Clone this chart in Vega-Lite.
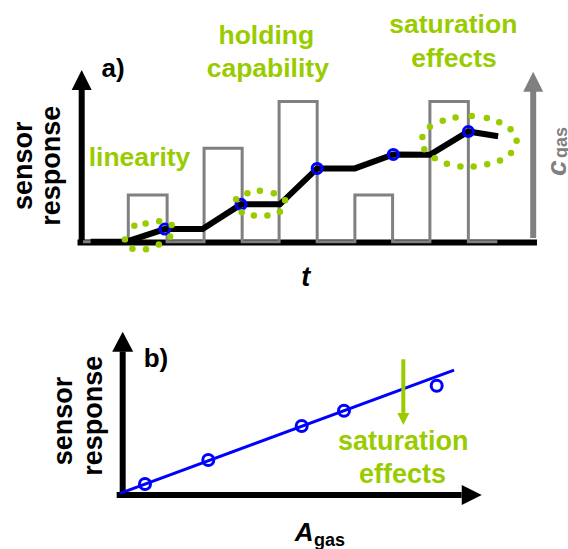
{
  "$schema": "https://vega.github.io/schema/vega-lite/v6.json",
  "background": "white",
  "padding": 0,
  "spacing": 0,
  "bounds": "flush",
  "config": {"view": {"stroke": null}},
  "datasets": {
    "a_axes": [
      {"t": -0.347, "t2": 11.84, "v": -0.015, "v2": -0.015},
      {"t": -0.236, "t2": -0.236, "v": -0.07, "v2": 3.27}
    ],
    "a_gaxis": [{"t": 11.74, "t2": 11.74, "v": 0.08, "v2": 3.24}],
    "a_head_black": [{"t": -0.236, "v": 3.463}],
    "a_head_gray": [{"t": 11.74, "v": 3.426}],
    "a_pulse": [
      {"i": 0, "t": -0.2, "v": 0}, {"i": 1, "t": 1.0, "v": 0}, {"i": 2, "t": 1.0, "v": 1},
      {"i": 3, "t": 2.03, "v": 1}, {"i": 4, "t": 2.03, "v": 0}, {"i": 5, "t": 3.01, "v": 0},
      {"i": 6, "t": 3.01, "v": 2}, {"i": 7, "t": 4.02, "v": 2}, {"i": 8, "t": 4.02, "v": 0},
      {"i": 9, "t": 5.0, "v": 0}, {"i": 10, "t": 5.0, "v": 3}, {"i": 11, "t": 6.01, "v": 3},
      {"i": 12, "t": 6.01, "v": 0}, {"i": 13, "t": 7.01, "v": 0}, {"i": 14, "t": 7.01, "v": 1},
      {"i": 15, "t": 8.01, "v": 1}, {"i": 16, "t": 8.01, "v": 0}, {"i": 17, "t": 9.0, "v": 0},
      {"i": 18, "t": 9.0, "v": 3}, {"i": 19, "t": 10.02, "v": 3}, {"i": 20, "t": 10.02, "v": 0},
      {"i": 21, "t": 10.79, "v": 0}
    ],
    "a_resp": [
      {"i": 0, "t": 0.0, "v": 0.0}, {"i": 1, "t": 0.95, "v": 0.0}, {"i": 2, "t": 1.97, "v": 0.27},
      {"i": 3, "t": 2.97, "v": 0.27}, {"i": 4, "t": 3.99, "v": 0.8}, {"i": 5, "t": 5.02, "v": 0.8},
      {"i": 6, "t": 6.01, "v": 1.57}, {"i": 7, "t": 7.01, "v": 1.57}, {"i": 8, "t": 8.03, "v": 1.87},
      {"i": 9, "t": 9.0, "v": 1.86}, {"i": 10, "t": 10.02, "v": 2.36}, {"i": 11, "t": 10.81, "v": 2.26}
    ],
    "a_circles": [
      {"t": 1.97, "v": 0.27}, {"t": 3.99, "v": 0.8}, {"t": 6.01, "v": 1.57},
      {"t": 8.03, "v": 1.87}, {"t": 10.02, "v": 2.36}
    ],
    "a_dots": [
      {"t": 0.91, "v": 0.05}, {"t": 1.16, "v": 0.34}, {"t": 1.46, "v": 0.39}, {"t": 1.82, "v": 0.44},
      {"t": 2.15, "v": 0.36}, {"t": 2.11, "v": 0.11}, {"t": 1.81, "v": -0.06}, {"t": 1.47, "v": -0.16},
      {"t": 1.11, "v": -0.15},
      {"t": 3.86, "v": 0.91}, {"t": 4.16, "v": 1.04}, {"t": 4.49, "v": 1.09}, {"t": 4.86, "v": 1.04},
      {"t": 5.16, "v": 0.89}, {"t": 5.02, "v": 0.64}, {"t": 4.69, "v": 0.56}, {"t": 4.33, "v": 0.56},
      {"t": 4.01, "v": 0.63},
      {"t": 8.8, "v": 2.24}, {"t": 9.0, "v": 2.46}, {"t": 9.34, "v": 2.59}, {"t": 9.68, "v": 2.66},
      {"t": 10.11, "v": 2.69}, {"t": 10.51, "v": 2.65}, {"t": 10.84, "v": 2.56}, {"t": 11.14, "v": 2.41},
      {"t": 11.3, "v": 2.16}, {"t": 11.15, "v": 1.9}, {"t": 10.86, "v": 1.74}, {"t": 10.52, "v": 1.66},
      {"t": 10.16, "v": 1.61}, {"t": 9.81, "v": 1.61}, {"t": 9.45, "v": 1.67}, {"t": 9.13, "v": 1.79},
      {"t": 8.85, "v": 1.98}
    ],
    "a_green_text": [
      {"t": 1.297, "v": 1.621, "label": "linearity"},
      {"t": 4.66, "v": 4.242, "label": "holding"},
      {"t": 4.7, "v": 3.527, "label": "capability"},
      {"t": 9.62, "v": 4.47, "label": "saturation"},
      {"t": 9.64, "v": 3.75, "label": "effects"}
    ],
    "a_letter": [{"t": 0.594, "v": 3.537, "label": "a)"}],
    "a_tlabel": [{"t": 5.71, "v": -0.949, "label": "t"}],
    "a_ylabel": [
      {"t": -1.562, "v": 1.625, "label": "sensor"},
      {"t": -0.812, "v": 1.625, "label": "response"}
    ],
    "a_c": [{"t": 12.61, "v": 1.572, "label": "c"}],
    "a_gas": [{"t": 12.64, "v": 1.792, "label": "gas"}],
    "b_axes": [
      {"a": -0.27, "a2": 15.2, "r": 0, "r2": 0},
      {"a": 0, "a2": 0, "r": -0.13, "r2": 6.43}
    ],
    "b_head_up": [{"a": 0, "r": 6.874}],
    "b_head_right": [{"a": 15.653, "r": 0}],
    "b_fit": [{"a": -0.12, "a2": 14.86, "r": 0.076, "r2": 5.6}],
    "b_circles": [
      {"a": 1.0, "r": 0.493}, {"a": 3.839, "r": 1.57}, {"a": 8.027, "r": 3.094},
      {"a": 9.924, "r": 3.78}, {"a": 14.081, "r": 4.901}
    ],
    "b_garrow": [{"a": 12.584, "a2": 12.584, "r": 6.085, "r2": 3.68}],
    "b_ghead": [{"a": 12.584, "r": 3.408}],
    "b_green_text": [
      {"a": 12.585, "r": 2.018, "label": "saturation"},
      {"a": 12.55, "r": 0.552, "label": "effects"}
    ],
    "b_letter": [{"a": 1.493, "r": 5.753, "label": "b)"}],
    "b_ylabel": [
      {"a": -2.287, "r": 3.318, "label": "sensor"},
      {"a": -0.915, "r": 3.552, "label": "response"}
    ],
    "b_A": [{"a": 8.139, "r": -2.063, "label": "A"}],
    "b_gas": [{"a": 8.578, "r": -2.287, "label": "gas"}]
  },
  "vconcat": [
    {
      "width": 568,
      "height": 300,
      "encoding": {
        "x": {"field": "t", "type": "quantitative", "scale": {"domain": [-2.403, 12.663], "nice": false, "zero": false}, "axis": null},
        "y": {"field": "v", "type": "quantitative", "scale": {"domain": [-1.248, 5.176], "nice": false, "zero": false}, "axis": null}
      },
      "layer": [
        {"data": {"name": "a_axes"}, "mark": {"type": "rule", "color": "black", "strokeWidth": 6}, "encoding": {"x2": {"field": "t2"}, "y2": {"field": "v2"}}},
        {"data": {"name": "a_head_black"}, "mark": {"type": "point", "shape": "M0,-1L1,1L-1,1Z", "size": 400, "filled": true, "color": "black", "opacity": 1, "strokeWidth": 0}},
        {"data": {"name": "a_pulse"}, "mark": {"type": "line", "color": "#808080", "strokeWidth": 3}, "encoding": {"order": {"field": "i", "type": "quantitative"}}},
        {"data": {"name": "a_gaxis"}, "mark": {"type": "rule", "color": "#808080", "strokeWidth": 6}, "encoding": {"x2": {"field": "t2"}, "y2": {"field": "v2"}}},
        {"data": {"name": "a_head_gray"}, "mark": {"type": "point", "shape": "M0,-1L1,1L-1,1Z", "size": 400, "filled": true, "color": "#808080", "opacity": 1, "strokeWidth": 0}},
        {"data": {"name": "a_resp"}, "mark": {"type": "line", "color": "black", "strokeWidth": 6}, "encoding": {"order": {"field": "i", "type": "quantitative"}}},
        {"data": {"name": "a_circles"}, "mark": {"type": "point", "shape": "circle", "filled": false, "color": "#0000ff", "size": 100, "strokeWidth": 3, "opacity": 1}},
        {"data": {"name": "a_dots"}, "mark": {"type": "point", "shape": "circle", "filled": true, "color": "#99cc00", "size": 42, "opacity": 1, "strokeWidth": 0}},
        {"data": {"name": "a_green_text"}, "mark": {"type": "text", "color": "#99cc00", "font": "Liberation Sans", "fontWeight": "bold", "fontSize": 26.5, "align": "center", "baseline": "alphabetic"}, "encoding": {"text": {"field": "label"}}},
        {"data": {"name": "a_letter"}, "mark": {"type": "text", "color": "black", "font": "Liberation Sans", "fontWeight": "bold", "fontSize": 26, "align": "center", "baseline": "alphabetic"}, "encoding": {"text": {"field": "label"}}},
        {"data": {"name": "a_tlabel"}, "mark": {"type": "text", "color": "black", "font": "Liberation Sans", "fontWeight": "bold", "fontStyle": "italic", "fontSize": 27, "align": "center", "baseline": "alphabetic"}, "encoding": {"text": {"field": "label"}}},
        {"data": {"name": "a_ylabel"}, "mark": {"type": "text", "color": "black", "font": "Liberation Sans", "fontWeight": "bold", "fontSize": 27, "align": "center", "baseline": "alphabetic", "angle": 270}, "encoding": {"text": {"field": "label"}}},
        {"data": {"name": "a_c"}, "mark": {"type": "text", "color": "#808080", "font": "Liberation Sans", "fontWeight": "bold", "fontStyle": "italic", "fontSize": 28, "align": "center", "baseline": "alphabetic", "angle": 270}, "encoding": {"text": {"field": "label"}}},
        {"data": {"name": "a_gas"}, "mark": {"type": "text", "color": "#808080", "font": "Liberation Sans", "fontWeight": "bold", "fontSize": 18, "align": "left", "baseline": "alphabetic", "angle": 270}, "encoding": {"text": {"field": "label"}}}
      ]
    },
    {
      "width": 568,
      "height": 249,
      "encoding": {
        "x": {"field": "a", "type": "quantitative", "scale": {"domain": [-5.502, 19.969], "nice": false, "zero": false}, "axis": null},
        "y": {"field": "r", "type": "quantitative", "scale": {"domain": [-2.422, 8.744], "nice": false, "zero": false}, "axis": null}
      },
      "layer": [
        {"data": {"name": "b_axes"}, "mark": {"type": "rule", "color": "black", "strokeWidth": 6}, "encoding": {"x2": {"field": "a2"}, "y2": {"field": "r2"}}},
        {"data": {"name": "b_head_up"}, "mark": {"type": "point", "shape": "M0,-1L1.05,1L-1.05,1Z", "size": 400, "filled": true, "color": "black", "opacity": 1, "strokeWidth": 0}},
        {"data": {"name": "b_head_right"}, "mark": {"type": "point", "shape": "M1,0L-1,1L-1,-1Z", "size": 400, "filled": true, "color": "black", "opacity": 1, "strokeWidth": 0}},
        {"data": {"name": "b_fit"}, "mark": {"type": "rule", "color": "#0000ff", "strokeWidth": 3}, "encoding": {"x2": {"field": "a2"}, "y2": {"field": "r2"}}},
        {"data": {"name": "b_circles"}, "mark": {"type": "point", "shape": "circle", "filled": false, "color": "#0000ff", "size": 121, "strokeWidth": 3, "opacity": 1}},
        {"data": {"name": "b_garrow"}, "mark": {"type": "rule", "color": "#99cc00", "strokeWidth": 4}, "encoding": {"x2": {"field": "a2"}, "y2": {"field": "r2"}}},
        {"data": {"name": "b_ghead"}, "mark": {"type": "point", "shape": "M0,1L1,-1L-1,-1Z", "size": 144, "filled": true, "color": "#99cc00", "opacity": 1, "strokeWidth": 0}},
        {"data": {"name": "b_green_text"}, "mark": {"type": "text", "color": "#99cc00", "font": "Liberation Sans", "fontWeight": "bold", "fontSize": 27, "align": "center", "baseline": "alphabetic"}, "encoding": {"text": {"field": "label"}}},
        {"data": {"name": "b_letter"}, "mark": {"type": "text", "color": "black", "font": "Liberation Sans", "fontWeight": "bold", "fontSize": 26, "align": "center", "baseline": "alphabetic"}, "encoding": {"text": {"field": "label"}}},
        {"data": {"name": "b_ylabel"}, "mark": {"type": "text", "color": "black", "font": "Liberation Sans", "fontWeight": "bold", "fontSize": 27, "align": "center", "baseline": "alphabetic", "angle": 270}, "encoding": {"text": {"field": "label"}}},
        {"data": {"name": "b_A"}, "mark": {"type": "text", "color": "black", "font": "Liberation Sans", "fontWeight": "bold", "fontStyle": "italic", "fontSize": 26, "align": "center", "baseline": "alphabetic"}, "encoding": {"text": {"field": "label"}}},
        {"data": {"name": "b_gas"}, "mark": {"type": "text", "color": "black", "font": "Liberation Sans", "fontWeight": "bold", "fontSize": 18, "align": "left", "baseline": "alphabetic"}, "encoding": {"text": {"field": "label"}}}
      ]
    }
  ]
}
